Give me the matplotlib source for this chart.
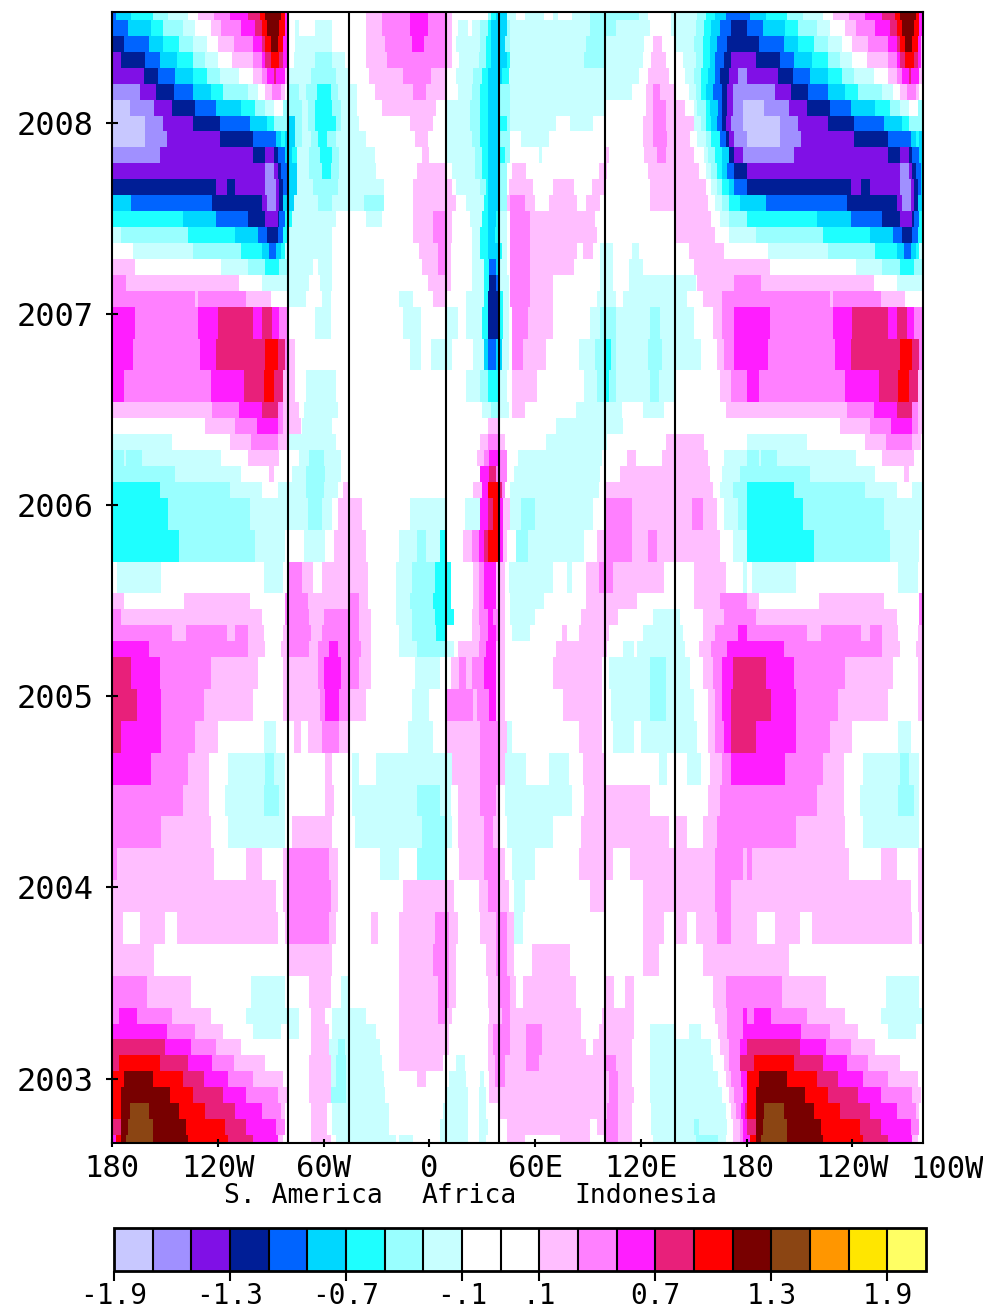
import numpy as np
import matplotlib
matplotlib.use('Agg')
import matplotlib.pyplot as plt
from matplotlib.colors import ListedColormap, BoundaryNorm

# anomaly runs per row: (end of run in degrees east of 180, value); 0-360, repeated past 180
rows_2008 = [
    [(2,-1),(11,-.8),(23,-.6),(32,-.4),(43,-.2),(49,0),(58,.2),(67,.4),(77,.6),(84,.8),(87,1),(96,1.2),(98,1),(100,.6),(144,0),(153,.2),(169,.4),(179,.6),(189,.4),(193,.2),(213,0),(215,-.4),(218,-.6),(224,-.8),(229,-.2),(234,0),(245,-.2),(250,0),(253,-.2),(261,0),(271,-.2),(299,-.4),(304,-.2),(317,0),(332,-.2),(337,-.4),(342,-.6),(348,-.8),(360,-1)],
    [(9,-1),(22,-.8),(29,-.6),(40,-.4),(47,-.2),(56,0),(62,.2),(73,.4),(81,.6),(85,.8),(88,1),(95,1.2),(98,1),(100,.6),(104,0),(106,-.2),(115,0),(125,-.2),(144,0),(153,.2),(169,.4),(179,.6),(189,.4),(193,.2),(196,0),(202,-.2),(204,0),(209,-.2),(213,-.4),(215,-.6),(224,-.8),(226,-.4),(271,-.2),(286,-.4),(305,-.2),(317,0),(331,-.2),(336,-.4),(340,-.6),(345,-.8),(351,-1),(360,-1.2)],
    [(7,-1.2),(21,-1),(29,-.8),(38,-.6),(46,-.4),(54,-.2),(60,0),(69,.2),(80,.4),(85,.6),(87,.8),(90,1),(94,1.2),(97,1),(99,.6),(100,.2),(104,0),(125,-.2),(144,0),(155,.2),(170,.4),(177,.6),(189,.4),(193,.2),(195,0),(209,-.2),(212,-.4),(215,-.6),(223,-.8),(226,-.4),(269,-.2),(279,-.4),(302,-.2),(307,0),(312,.2),(320,0),(330,-.2),(335,-.4),(339,-.6),(343,-.8),(349,-1),(360,-1.2)],
    [(5,-1.4),(19,-1.2),(27,-1),(37,-.8),(46,-.6),(53,-.4),(60,-.2),(68,0),(80,.2),(85,.4),(87,.6),(90,.8),(95,1),(97,.8),(99,.6),(100,.2),(103,0),(115,-.2),(125,-.4),(132,-.2),(144,0),(156,.2),(189,.4),(193,.2),(197,0),(208,-.2),(212,-.4),(215,-.6),(224,-.8),(226,-.6),(268,-.2),(279,-.4),(301,-.2),(306,0),(314,.2),(324,0),(331,-.2),(335,-.4),(339,-.6),(342,-.8),(347,-1),(351,-1.2),(360,-1.4)],
    [(18,-1.4),(26,-1.2),(36,-1),(46,-.8),(54,-.6),(61,-.4),(72,-.2),(80,0),(85,.2),(88,.4),(92,.6),(93,.8),(98,.6),(100,.2),(113,-.2),(127,-.4),(134,-.2),(146,0),(165,.2),(181,.4),(189,.2),(195,0),(205,-.2),(210,-.4),(213,-.6),(221,-.8),(225,-.6),(299,-.2),(304,0),(316,.2),(325,0),(330,-.2),(334,-.4),(338,-.6),(342,-.8),(345,-1),(350,-1.2),(355,-1.4),(360,-1.6)],
    [(16,-1.6),(25,-1.4),(35,-1.2),(46,-1),(56,-.8),(63,-.6),(77,-.4),(83,-.2),(87,0),(91,.2),(96,.4),(98,.2),(100,0),(106,-.4),(110,-.2),(116,-.4),(124,-.6),(128,-.4),(139,-.2),(149,0),(171,.2),(178,.4),(189,.2),(196,0),(204,-.2),(209,-.4),(213,-.6),(220,-.8),(226,-.4),(295,-.2),(303,0),(307,.2),(311,.4),(319,.2),(327,0),(331,-.2),(334,-.4),(337,-.6),(341,-.8),(346,-1),(349,-1.2),(352,-1.4),(360,-1.6)],
    [(10,-1.8),(24,-1.6),(34,-1.4),(47,-1.2),(59,-1),(73,-.8),(81,-.6),(87,-.4),(92,-.2),(97,0),(100,-.4),(108,-.4),(111,-.2),(115,-.4),(125,-.6),(130,-.4),(139,-.2),(153,0),(184,.2),(189,0),(203,-.2),(209,-.4),(213,-.6),(220,-.8),(226,-.4),(279,-.2),(303,0),(307,.2),(314,.4),(325,.2),(330,0),(332,-.2),(337,-.4),(339,-.6),(344,-.8),(346,-1),(349,-1.2),(352,-1.4),(358,-1.6),(360,-1.8)],
    [(19,-1.8),(29,-1.6),(46,-1.4),(61,-1.2),(78,-1),(88,-.8),(92,-.6),(100,-.4),(104,-.8),(108,-.4),(111,-.2),(115,-.4),(127,-.6),(130,-.4),(140,-.2),(169,0),(182,.2),(189,0),(203,-.2),(209,-.4),(213,-.6),(220,-.8),(224,-.6),(226,-.4),(252,-.2),(260,0),(273,-.2),(301,0),(307,.2),(314,.4),(330,.2),(334,-.2),(337,-.4),(340,-.6),(343,-.8),(346,-1),(348,-1.2),(351,-1.4),(358,-1.6),(360,-1.8)],
    [(19,-1.8),(31,-1.6),(61,-1.4),(80,-1.2),(93,-1),(96,-.8),(98,-.6),(104,-.8),(108,-.4),(113,-.2),(117,-.4),(122,-.6),(127,-.4),(144,-.2),(172,0),(179,.2),(189,0),(204,-.2),(209,-.4),(213,-.6),(220,-.8),(226,-.4),(232,0),(248,-.2),(301,0),(307,.2),(315,.4),(328,.2),(332,0),(337,-.2),(340,-.4),(345,-.6),(348,-1),(350,-1.2),(353,-1.4),(360,-1.6)],
    [(27,-1.6),(80,-1.4),(87,-1.2),(92,-1.4),(94,-1.2),(98,-1),(102,-.8),(105,-.6),(112,-.2),(118,-.4),(125,-.6),(129,-.4),(149,-.2),(176,0),(180,.2),(189,0),(206,-.2),(210,-.4),(213,-.6),(219,-.8),(223,-.6),(226,-.4),(242,0),(244,-.2),(279,0),(282,.2),(302,0),(309,.2),(314,.4),(330,.2),(336,0),(338,-.2),(342,-.4),(346,-.6),(350,-.8),(353,-1.2),(358,-1.4),(360,-1.6)],
    [(87,-1.4),(92,-1.6),(94,-1.4),(96,-1.2),(99,-1),(105,-.8),(112,-.2),(119,-.4),(124,-.6),(129,-.4),(150,-.2),(173,0),(189,.2),(193,0),(206,-.2),(210,-.4),(213,-.6),(220,-.8),(224,-.4),(227,0),(235,.2),(276,0),(281,.2),(304,0),(333,.2),(337,0),(340,-.2),(343,-.4),(346,-.6),(349,-.8),(353,-1),(360,-1.2)],
    [(59,-1.2),(65,-1.4),(70,-1.2),(87,-1.4),(93,-1.6),(95,-1.4),(97,-1.2),(99,-1),(105,-.8),(114,-.2),(128,-.4),(154,-.2),(171,0),(193,.2),(195,0),(209,-.2),(212,-.4),(213,-.6),(220,-.8),(224,-.4),(225,0),(239,.2),(250,0),(262,.2),(272,0),(279,.2),(305,0),(337,.2),(340,0),(343,-.2),(346,-.4),(350,-.6),(353,-.8),(360,-1)],
    [(11,-.8),(57,-1),(85,-1.2),(88,-1.4),(93,-1.6),(95,-1.4),(97,-1.2),(103,-.8),(117,-.2),(125,-.4),(143,-.2),(154,-.4),(171,0),(189,.2),(195,.2),(201,0),(211,-.2),(213,-.6),(219,-.8),(224,-.4),(226,.2),(234,.4),(240,.2),(248,0),(264,.2),(269,0),(277,.2),(305,0),(313,.2),(338,.2),(342,0),(346,-.2),(350,-.4),(356,-.6),(360,-.8)],
    [(40,-.6),(59,-.8),(77,-1),(87,-1.2),(94,-1.4),(95,-1.2),(98,-1),(102,-.6),(127,-.2),(144,0),(153,-.2),(171,0),(182,.2),(189,.4),(193,.2),(203,0),(210,-.2),(213,-.6),(218,-.8),(220,-.6),(224,-.2),(226,0),(237,.4),(274,.2),(320,0),(340,.2),(345,0),(350,-.2),(360,-.4)],
    [(5,-.2),(43,-.4),(70,-.6),(83,-.8),(88,-1),(94,-1.2),(97,-1),(100,-.6),(125,-.2),(171,0),(182,.2),(189,.4),(193,.2),(204,0),(209,-.2),(213,-.6),(217,-.8),(220,-.6),(224,-.2),(226,0),(237,.4),(275,.2),(320,0),(342,.2),(350,0),(360,-.2)],
    [(12,0),(46,-.2),(73,-.4),(85,-.6),(89,-.8),(93,-1),(96,-.8),(98,-.6),(125,-.2),(174,0),(185,.2),(189,.4),(192,.2),(204,0),(209,-.2),(213,-.6),(219,-.8),(221,-.6),(224,-.2),(226,0),(237,.4),(264,.2),(267,0),(273,.2),(277,0),(284,-.2),(295,0),(299,-.2),(320,0),(327,0),(347,.2),(360,0)],
    [(13,.2),(62,0),(77,-.2),(87,-.4),(95,-.6),(100,-.4),(114,-.2),(117,0),(125,-.2),(176,0),(185,.2),(189,.4),(192,.2),(204,0),(211,-.2),(214,-.6),(218,-1),(220,-.8),(224,-.2),(226,0),(237,.4),(262,.2),(277,0),(284,-.2),(293,0),(301,-.2),(320,0),(330,0),(360,.2)],
]
months_2008 = [.5] + [1]*16

rows_2007 = [
    [(8,.4),(72,.2),(85,0),(112,-.2),(118,0),(125,-.2),(179,0),(192,.2),(204,0),(211,-.2),(214,-.6),(218,-1.2),(220,-1),(225,-.2),(226,0),(237,.4),(250,.2),(277,0),(284,-.2),(293,0),(331,-.2),(332,0),(353,.2),(360,.4)],
    [(47,.4),(49,.2),(76,.4),(90,.2),(100,0),(110,-.2),(119,0),(124,-.2),(163,0),(171,-.2),(182,0),(189,.2),(201,0),(211,-.2),(213,-.6),(219,-1.2),(222,-.6),(225,-.2),(226,0),(237,.4),(250,.2),(275,0),(286,-.2),(290,0),(326,-.2),(335,0),(346,.2),(360,.4)],
    [(13,.6),(49,.4),(60,.6),(80,.8),(85,.6),(91,.8),(95,.6),(100,.4),(115,0),(124,-.2),(165,0),(175,-.2),(189,0),(196,-.2),(201,0),(210,-.2),(213,-.6),(219,-1.2),(222,-.6),(225,-.2),(227,0),(236,.4),(250,.2),(271,0),(277,-.2),(286,-.4),(305,-.2),(311,-.4),(330,-.2),(341,0),(346,.2),(353,.4),(360,.6)],
    [(12,.6),(50,.4),(59,.6),(87,.8),(94,1),(98,.8),(100,.4),(104,.2),(124,0),(163,0),(169,0),(175,-.2),(181,0),(189,-.2),(193,-.2),(205,0),(211,-.2),(213,-.8),(218,-1),(221,-.8),(225,-.2),(227,0),(233,.4),(246,.2),(265,0),(274,-.2),(279,-.4),(283,-.6),(286,-.4),(304,-.2),(312,-.4),(334,-.2),(343,0),(347,.2),(353,.4),(360,.6)],
    [(7,.6),(56,.4),(75,.6),(86,.8),(92,1),(97,.8),(104,.2),(110,0),(127,-.2),(201,0),(209,-.2),(213,-.4),(220,-.6),(224,-.2),(227,0),(241,.2),(268,0),(275,-.2),(279,-.4),(282,-.6),(286,-.4),(305,-.2),(310,-.4),(320,-.2),(345,0),(351,.2),(360,.4)],
    [(57,.2),(72,.4),(85,.6),(94,.8),(97,.4),(106,.2),(109,0),(128,-.2),(210,0),(215,-.2),(220,-.4),(225,-.2),(227,0),(234,.2),(263,0),(289,-.2),(301,0),(313,-.2),(348,0),(360,.2)],
    [(53,0),(70,.2),(82,.4),(94,.6),(97,.4),(107,.2),(108,0),(125,-.2),(213,0),(219,.2),(252,0),(290,-.2),(360,0)],
    [(34,-.2),(67,0),(79,.2),(94,.4),(99,.2),(100,0),(127,-.2),(209,0),(213,.2),(220,.4),(223,.2),(246,0),(281,-.2),(314,0),(336,.2),(360,0)],
    [(7,-.4),(8,-.2),(17,-.4),(62,-.2),(77,0),(95,.2),(106,0),(112,-.2),(120,-.4),(130,-.2),(207,0),(211,.2),(214,.4),(220,.6),(224,.4),(230,0),(278,-.2),(292,0),(297,.2),(312,0),(338,.2),(347,0),(360,-.2)],
    [(36,-.4),(73,-.2),(89,0),(92,.2),(102,0),(110,-.2),(121,-.4),(130,-.2),(209,0),(214,.6),(218,.8),(224,.4),(228,0),(277,-.2),(288,0),(339,.2),(346,0),(356,-.2),(360,-.4)],
    [(27,-.6),(67,-.4),(85,-.2),(94,0),(110,-.2),(120,-.4),(128,-.2),(131,0),(134,.2),(205,0),(210,.2),(213,.6),(219,1),(221,.8),(223,.4),(226,0),(276,-.2),(280,0),(341,.2),(345,0),(352,-.2),(360,-.4)],
]
months_2007 = [1, 1, 2, 2, 2, 1, 1, 1, 1, 1, 1]

rows_2006 = [
    [(32,-.6),(78,-.4),(111,-.2),(119,-.4),(125,-.2),(128,0),(142,.2),(169,0),(189,-.2),(200,0),(209,-.2),(213,.6),(216,.8),(220,1),(222,.6),(226,.2),(232,-.2),(240,-.4),(273,-.2),(280,0),(295,.4),(329,.2),(335,.4),(343,.2),(347,0),(355,-.2),(360,-.4)],
    [(38,-.6),(81,-.4),(98,-.2),(109,0),(121,-.2),(126,0),(144,.2),(163,0),(173,-.2),(178,-.4),(186,-.2),(189,-.6),(199,0),(204,.2),(208,.4),(211,.6),(213,.8),(219,1),(222,.6),(224,.2),(229,0),(236,-.4),(268,-.2),(275,0),(280,.2),(295,.4),(304,.2),(309,.4),(345,.2),(352,0),(360,-.2)],
    [(3,0),(28,-.2),(86,0),(97,-.2),(100,0),(108,.4),(114,.2),(119,0),(145,.2),(161,0),(170,-.2),(183,-.4),(192,-.6),(205,0),(208,.2),(211,.4),(218,.6),(223,.2),(225,0),(250,-.2),(258,0),(261,-.2),(269,0),(276,.2),(284,.4),(313,.2),(330,0),(348,.2),(358,0),(360,-.2)],
    [(7,.2),(41,0),(78,.2),(98,0),(111,.4),(134,.2),(140,.4),(145,.2),(161,0),(169,-.2),(182,-.4),(192,-.6),(205,0),(208,.2),(211,.4),(218,.6),(223,.2),(226,0),(245,-.2),(269,0),(298,.2),(330,0),(345,.2),(360,.4)],
    [(5,.4),(85,.2),(98,0),(112,.4),(120,.2),(140,.4),(147,.2),(161,0),(170,-.2),(183,-.4),(194,-.6),(204,0),(208,.2),(213,.4),(216,.6),(219,.4),(223,.2),(226,0),(240,-.2),(266,0),(287,.2),(307,0),(322,-.2),(335,0),(347,.2),(360,.4)],
    [(34,.4),(42,.2),(65,.4),(70,.2),(77,.4),(86,.2),(97,0),(100,.2),(113,.4),(119,.2),(140,.4),(147,.2),(163,0),(170,-.2),(184,-.4),(189,-.6),(204,0),(209,.2),(213,.4),(218,.6),(220,.4),(223,.2),(227,0),(237,-.2),(255,0),(258,.2),(265,0),(282,.2),(301,0),(324,-.2),(335,0),(342,.2),(355,.4),(360,.6)],
    [(21,.6),(77,.4),(87,.2),(96,0),(100,.2),(112,.4),(117,.2),(123,.4),(128,.6),(141,.4),(147,.2),(163,0),(173,-.2),(189,-.4),(194,-.2),(196,0),(208,.2),(212,.4),(218,.6),(223,.2),(252,0),(281,.2),(290,0),(296,-.2),(298,0),(325,-.2),(333,0),(340,.2),(349,.4),(360,.6)],
]
months_2006 = [2, 2, 2, 1, 1, 1, 1]

rows_2005 = [
    [(11,.8),(27,.6),(56,.4),(83,.2),(97,0),(117,.2),(120,.4),(130,.6),(140,.4),(147,.2),(172,0),(186,-.2),(192,0),(197,.2),(201,.4),(204,.2),(211,.4),(218,.6),(223,.2),(250,0),(278,.2),(282,0),(305,-.2),(314,-.4),(328,-.2),(335,0),(341,.2),(346,.4),(352,.6),(360,.8)],
    [(14,.8),(28,.6),(52,.4),(80,.2),(97,0),(118,.2),(121,.4),(129,.6),(134,.4),(144,.2),(170,0),(180,-.2),(189,0),(205,.4),(207,.2),(214,.4),(218,.6),(223,.2),(256,0),(278,.2),(283,0),(305,-.2),(314,-.4),(330,-.2),(338,0),(342,.2),(346,.4),(351,.6),(360,.8)],
    [(5,.8),(28,.6),(47,.4),(60,.2),(86,0),(93,-.2),(103,0),(107,.2),(111,0),(119,.2),(129,.4),(134,.2),(168,0),(182,-.2),(189,0),(209,.2),(220,.4),(224,.2),(227,-.2),(265,0),(278,.2),(284,0),(296,-.2),(300,0),(332,-.2),(338,0),(342,.2),(347,.4),(351,.6),(360,.8)],
    [(22,.6),(43,.4),(55,.2),(66,0),(87,-.2),(92,-.4),(98,-.2),(121,0),(125,.2),(136,0),(140,-.2),(150,0),(193,-.2),(209,.2),(219,.4),(223,.2),(235,-.2),(248,0),(259,-.2),(267,0),(280,.2),(310,0),(315,-.2),(326,0),(334,-.2),(339,0),(346,.2),(351,.4),(360,.6)],
    [(40,.4),(55,.2),(64,0),(86,-.2),(95,-.4),(98,-.2),(121,0),(126,.2),(136,0),(173,-.2),(186,-.4),(192,-.2),(196,0),(209,.2),(218,.4),(220,.2),(223,0),(261,-.2),(268,0),(305,.2),(338,0),(345,.2),(360,.4)],
    [(28,.4),(56,.2),(66,0),(98,-.2),(102,0),(125,.2),(138,0),(176,-.2),(189,-.4),(193,-.2),(196,0),(211,.2),(216,.4),(220,.2),(224,0),(250,-.2),(266,0),(316,.2),(320,0),(326,.2),(335,0),(343,.2),(360,.4)],
]
months_2005 = [2]*6

rows_2004 = [
    [(3,.4),(58,.2),(76,0),(85,.2),(97,0),(100,.2),(123,.4),(128,.2),(152,0),(163,-.2),(173,0),(189,-.4),(197,0),(211,.2),(219,.4),(223,.2),(227,0),(240,-.2),(265,0),(284,.2),(294,0),(342,.2),(358,.4),(360,.2)],
    [(93,.2),(97,0),(100,.2),(124,.4),(128,.2),(165,0),(194,.2),(208,0),(213,.2),(220,.4),(225,.2),(228,0),(234,-.2),(271,0),(279,.2),(301,0),(342,.2),(351,.4),(360,.2)],
    [(6,.2),(16,0),(30,.2),(37,0),(94,.2),(98,0),(100,.2),(123,.4),(127,.2),(147,0),(151,.2),(163,0),(183,.2),(191,.4),(196,.2),(209,0),(218,.2),(224,.4),(228,.2),(233,-.2),(301,0),(313,.2),(320,0),(326,.2),(331,0),(343,.2),(351,.4),(360,.2)],
    [(24,.2),(100,0),(125,.2),(163,0),(182,.2),(191,.4),(195,.2),(212,0),(218,.2),(224,.4),(228,.2),(238,0),(260,.2),(301,0),(310,.2),(335,0),(360,.2)],
    [(20,.4),(45,.2),(79,0),(98,-.2),(112,0),(124,.2),(130,0),(135,-.2),(163,0),(185,.2),(191,.4),(195,.2),(213,0),(220,.2),(226,.4),(229,.2),(233,0),(263,.2),(280,0),(285,.2),(291,0),(296,.2),(341,0),(348,.2),(360,.4)],
]
months_2004 = [2]*5

rows_2003 = [
    [(4,.4),(14,.6),(34,.4),(56,.2),(76,0),(106,-.2),(113,0),(121,.2),(125,0),(144,-.2),(163,0),(185,.2),(189,.4),(193,.2),(214,0),(221,.2),(226,.4),(266,.2),(278,0),(296,.2),(342,0),(349,.2),(358,.4),(360,.6)],
    [(31,.6),(47,.4),(63,.2),(80,0),(96,-.2),(100,0),(106,-.2),(113,0),(123,.2),(125,0),(150,-.2),(163,0),(191,.2),(213,0),(216,.2),(226,.4),(235,.2),(244,.4),(266,.2),(276,0),(296,.2),(305,0),(320,-.2),(327,0),(334,-.2),(344,0),(349,.2),(358,.4),(360,.6)],
    [(30,.8),(45,.6),(59,.4),(73,.2),(113,0),(123,.2),(128,-.2),(132,-.4),(152,-.2),(163,0),(191,.2),(213,0),(216,.2),(226,.4),(235,.2),(244,.4),(269,.2),(273,0),(295,.2),(305,0),(340,-.2),(345,0),(350,.2),(356,.4),(360,.6)],
    [(4,.8),(27,1),(43,.8),(57,.6),(69,.4),(87,.2),(112,0),(124,.2),(127,-.2),(133,-.4),(153,-.2),(163,0),(188,.2),(195,0),(200,-.2),(213,0),(217,.2),(223,.4),(235,.2),(242,.4),(280,.2),(286,.4),(295,.2),(305,0),(341,-.2),(347,0),(350,.2),(356,.4),(360,.8)],
    [(7,1),(23,1.2),(40,1),(52,.8),(66,.6),(80,.4),(97,.2),(112,0),(124,.2),(127,-.2),(133,-.4),(154,-.2),(173,0),(178,.2),(191,0),(201,-.2),(209,0),(211,-.2),(214,0),(217,.2),(223,.4),(282,.2),(287,.4),(295,.2),(305,0),(344,-.2),(348,0),(351,.2),(357,.4),(360,.6)],
    [(5,1),(33,1.2),(46,1),(63,.8),(76,.6),(94,.4),(99,.2),(112,0),(124,.2),(133,-.4),(155,-.2),(190,0),(202,-.2),(208,0),(212,-.2),(214,0),(282,.2),(287,.4),(296,.2),(305,0),(346,-.2),(350,0),(353,.2),(358,.4),(360,.6)],
    [(5,1),(10,1.2),(21,1.4),(38,1.2),(53,1),(70,.8),(85,.6),(96,.4),(98,.2),(113,0),(122,.2),(125,0),(157,-.2),(188,0),(202,-.2),(208,0),(212,-.2),(220,0),(281,.2),(287,.4),(295,.2),(306,0),(348,-.2),(351,0),(354,.2),(357,.4),(359,.6),(360,.8)],
    [(5,.8),(9,1.2),(23,1.4),(42,1.2),(64,1),(76,.8),(93,.6),(98,.4),(113,0),(122,.2),(125,0),(157,-.2),(186,0),(202,-.2),(208,0),(213,-.2),(224,0),(271,.2),(275,0),(280,.2),(287,.4),(295,.2),(306,0),(330,-.2),(333,-.4),(349,-.2),(352,0),(356,.2),(358,.4),(360,.6)],
    [(2,.6),(5,1),(8,1.2),(23,1.4),(43,1.2),(66,1),(80,.8),(94,.6),(97,.2),(113,0),(124,.2),(127,0),(161,-.2),(163,0),(171,-.2),(186,0),(202,-.2),(208,0),(212,-.2),(224,0),(234,.2),(254,0),(271,.2),(280,0),(287,.4),(295,.2),(307,0),(331,-.2),(344,-.4),(348,-.2),(352,0),(356,.2),(358,.4),(360,.6)],
]
months_2003 = [1]*8 + [.5]

start_year = 2008.58

lon_labels = ['180', '120W', '60W', '0', '60E', '120E', '180', '120W']
lon_ticks = [0, 60, 120, 180, 240, 300, 360, 420]
year_ticks = [2003, 2004, 2005, 2006, 2007, 2008]
continent_lons = [100, 134.5, 189.5, 219.5, 279.5, 319.5]

level_edges = [-1.9, -1.7, -1.5, -1.3, -1.1, -.9, -.7, -.5, -.3, -.1, 0, .1, .3, .5, .7, .9, 1.1, 1.3, 1.5, 1.7, 1.9, 2.1]
level_colors = ['#C8C8FF', '#A090FF', '#8010E6', '#001E96', '#0064FF', '#00D7FF', '#1EFFFF', '#99FFFF', '#C8FFFF',
                '#FFFFFF', '#FFFFFF', '#FFBEFF', '#FF80FF', '#FF1EFF', '#E8207A', '#FF0000', '#780000', '#8B4513',
                '#FF9600', '#FFE600', '#FFFF64']
cbar_ticks = [-1.9, -1.3, -.7, -.1, .1, .7, 1.3, 1.9]
cbar_labels = ['-1.9', '-1.3', '-0.7', '-.1', '.1', '0.7', '1.3', '1.9']


def expand(runs):
    row = np.zeros(360)
    start = 0
    for end, val in runs:
        row[start:end] = val
        start = max(start, end)
    return row


rows = rows_2008 + rows_2007 + rows_2006 + rows_2005 + rows_2004 + rows_2003
months = months_2008 + months_2007 + months_2006 + months_2005 + months_2004 + months_2003
field = np.array([expand(r) for r in rows])
field = np.hstack([field, field[:, :100]])
x_edges = np.arange(461)
y_edges = start_year - np.concatenate([[0], np.cumsum(months)]) / 12

plt.rcParams['font.family'] = ['DejaVu Sans Mono']

fig = plt.figure(figsize=(9.83, 13.09), dpi=100)
ax = fig.add_axes([112 / 983, 1 - 1143 / 1309, 811 / 983, 1131 / 1309])

cmap = ListedColormap(level_colors)
norm = BoundaryNorm(level_edges, cmap.N)
mesh = ax.pcolormesh(x_edges, y_edges, field, cmap=cmap, norm=norm, shading='flat')

for lon in continent_lons:
    ax.axvline(lon, color='black', lw=1.5)

ax.set_xlim(0, 460)
ax.set_ylim(y_edges[-1], y_edges[0])
ax.set_xticks(lon_ticks)
ax.set_xticklabels(lon_labels, fontsize=22)
ax.set_yticks(year_ticks)
ax.set_yticklabels([str(y) for y in year_ticks], fontsize=23)
ax.tick_params(axis='x', direction='inout', length=6, width=1.5, pad=5)
ax.tick_params(axis='y', direction='inout', length=9, width=1.5, pad=9)
for s in ax.spines.values():
    s.set_linewidth(1.5)

# last label sits past the axis end and runs to the image edge
ax.text(453, -0.0105, '100W', transform=ax.get_xaxis_transform(), fontsize=22, ha='left', va='top', clip_on=False)

for txt, px in [('S. America', 303), ('Africa', 469), ('Indonesia', 646)]:
    fig.text(px / 983, 1 - 1196 / 1309, txt, fontsize=19, ha='center', va='center')

cax = fig.add_axes([114 / 983, 1 - 1271 / 1309, 812 / 983, 43 / 1309])
cb = fig.colorbar(mesh, cax=cax, orientation='horizontal', ticks=cbar_ticks, spacing='uniform', drawedges=True)
cb.ax.minorticks_off()
cb.ax.set_xticks(cbar_ticks)
cb.ax.set_xticklabels(cbar_labels, fontsize=20)
cb.ax.tick_params(length=7, width=1.5, pad=1)
cb.outline.set_linewidth(2)
cb.dividers.set_linewidth(1.5)
cb.dividers.set_color('black')

fig.savefig('out.png', dpi=100)
